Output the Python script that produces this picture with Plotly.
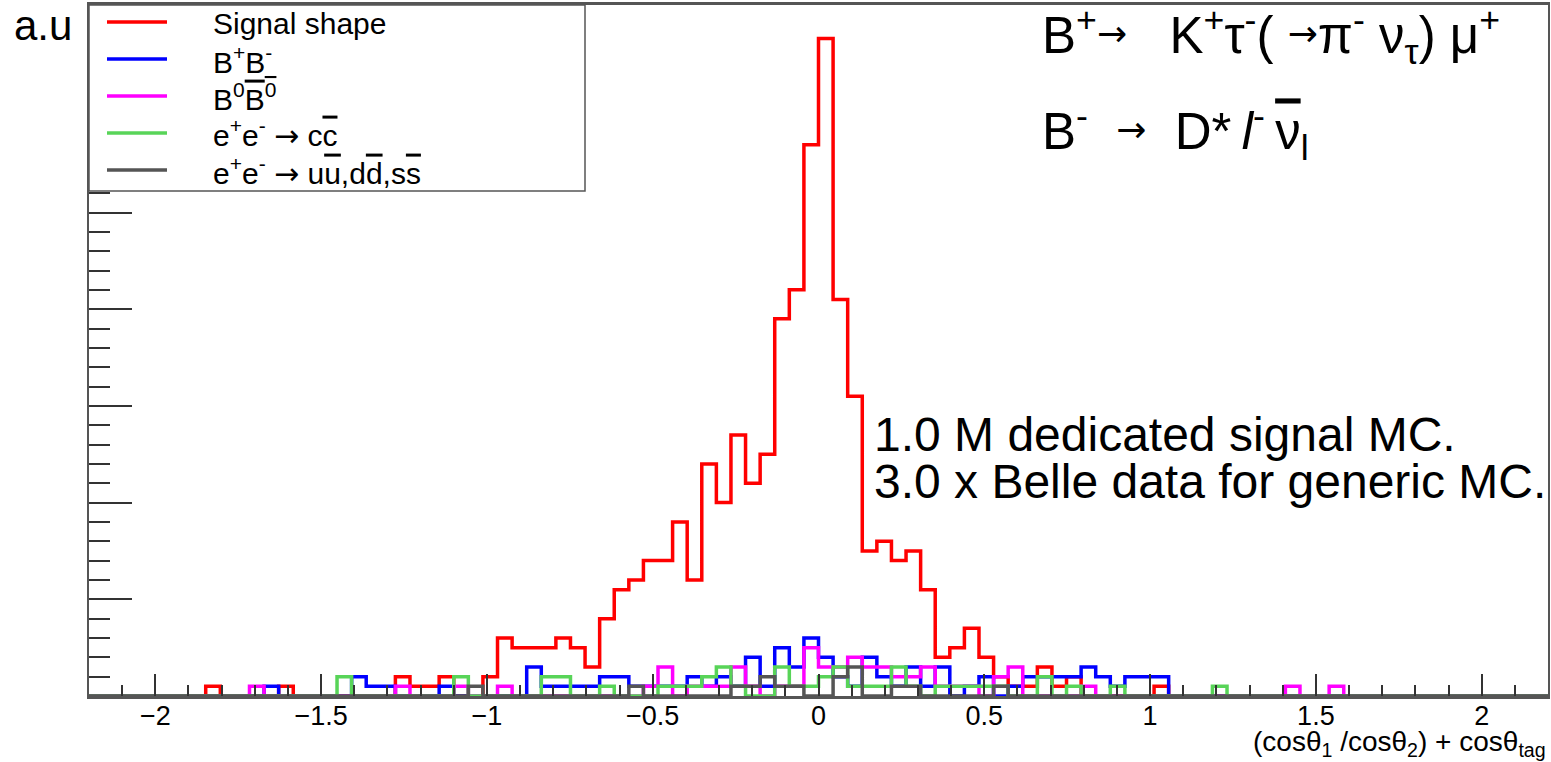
import numpy as np
import plotly.graph_objects as go

# ---------------- data (counts per bin, 100 bins on [-2.2, 2.2]) ----------------
x_lo, x_hi, n_bins = -2.2, 2.2, 100

signal = [0, 0, 0, 0, 0, 0, 0, 0, 1, 0,
          0, 0, 0, 1, 0, 0, 0, 0, 0, 0,
          0, 2, 1, 1, 2, 0, 0, 2, 6, 5,
          5, 5, 6, 5, 3, 8, 11, 12, 14, 14,
          18, 12, 24, 20, 27, 22, 25, 39, 42, 57,
          68, 41, 31, 15, 16, 14, 15, 11, 4, 5,
          7, 4, 2, 1, 1, 3, 1, 2, 0, 0,
          0, 0, 0, 1, 0, 0, 0, 0, 0, 0,
          0, 0, 0, 0, 0, 0, 0, 0, 0, 0,
          0, 0, 0, 0, 0, 0, 0, 0, 0, 0]

bplus_bminus = [0, 0, 0, 0, 0, 0, 0, 0, 0, 0,
                0, 0, 1, 0, 0, 0, 0, 0, 2, 1,
                1, 0, 0, 0, 1, 0, 0, 0, 0, 0,
                3, 1, 1, 1, 1, 2, 2, 1, 1, 1,
                1, 2, 1, 2, 1, 4, 1, 5, 3, 6,
                4, 2, 1, 4, 2, 1, 3, 1, 3, 0,
                1, 2, 0, 1, 2, 2, 2, 2, 3, 2,
                1, 2, 2, 2, 0, 0, 0, 0, 0, 0,
                0, 0, 0, 0, 0, 0, 0, 0, 0, 0,
                0, 0, 0, 0, 0, 0, 0, 0, 0, 0]

b0_b0bar = [0, 0, 0, 0, 0, 0, 0, 0, 0, 0,
            0, 1, 0, 0, 0, 0, 0, 0, 0, 0,
            0, 1, 0, 0, 0, 1, 0, 0, 1, 0,
            0, 0, 0, 0, 0, 0, 0, 0, 1, 3,
            0, 1, 1, 1, 3, 1, 0, 1, 1, 5,
            3, 3, 4, 3, 3, 2, 2, 3, 1, 1,
            1, 0, 2, 3, 0, 0, 0, 0, 1, 0,
            0, 0, 0, 0, 0, 0, 0, 0, 0, 0,
            0, 0, 1, 0, 0, 1, 0, 0, 0, 0,
            0, 0, 0, 0, 0, 0, 0, 0, 0, 0]

ccbar = [0, 0, 0, 0, 0, 0, 0, 0, 0, 0,
         0, 0, 0, 0, 0, 0, 0, 2, 0, 0,
         0, 0, 0, 0, 0, 2, 0, 0, 0, 0,
         0, 2, 2, 0, 0, 1, 0, 0, 0, 1,
         1, 1, 2, 3, 1, 0, 0, 3, 1, 1,
         2, 3, 1, 1, 1, 3, 1, 0, 1, 1,
         1, 1, 1, 0, 0, 2, 0, 1, 0, 0,
         1, 0, 0, 0, 0, 0, 0, 1, 0, 0,
         0, 0, 0, 0, 0, 0, 0, 0, 0, 0,
         0, 0, 0, 0, 0, 0, 0, 0, 0, 0]

uds = [0, 0, 0, 0, 0, 0, 0, 0, 0, 0,
       0, 0, 0, 0, 0, 0, 0, 0, 0, 0,
       0, 0, 0, 0, 0, 0, 1, 0, 0, 0,
       0, 0, 0, 0, 0, 0, 0, 1, 0, 0,
       0, 0, 0, 0, 1, 1, 2, 1, 1, 0,
       0, 2, 3, 0, 0, 1, 1, 0, 0, 0,
       0, 0, 1, 0, 0, 0, 0, 0, 0, 0,
       0, 0, 0, 0, 0, 0, 0, 0, 0, 0,
       0, 0, 0, 0, 0, 0, 0, 0, 0, 0,
       0, 0, 0, 0, 0, 0, 0, 0, 0, 0]

OV = "<span style='text-decoration:overline'>{}</span>"
ARR = "<span style='font-family:DejaVu Sans'>→</span>"
series_names = [
    "Signal shape",
    "B<sup>+</sup>B<sup>-</sup>",
    "B<sup>0</sup>" + OV.format("B<sup>0</sup>"),
    "e<sup>+</sup>e<sup>-</sup> " + ARR + " c" + OV.format("c"),
    "e<sup>+</sup>e<sup>-</sup> " + ARR + " u" + OV.format("u") + ",d" + OV.format("d")
    + ",s" + OV.format("s"),
]
series_values = [signal, bplus_bminus, b0_b0bar, ccbar, uds]
series_colors = ["#ff0000", "#0000ff", "#ff00ff", "#58d458", "#555555"]

FONT = "Liberation Sans, Arial, Helvetica, sans-serif"

edges = np.linspace(x_lo, x_hi, n_bins + 1)

fig = go.Figure()
for name, vals, col in zip(series_names, series_values, series_colors):
    yv = list(vals) + [vals[-1]]
    fig.add_trace(go.Scatter(
        x=edges, y=yv, mode="lines", name=name, showlegend=False,
        line=dict(color=col, width=3.5, shape="hv"),
        hoverinfo="skip",
    ))

W, H = 1551, 762
L, R, T, B = 89, 3, 5, 66
pw, ph = W - L - R, H - T - B


def px(xpix):
    return (xpix - L) / pw


def py(ypix):
    return (H - B - ypix) / ph


y_top = ph / 9.67

# legend box + entries (drawn as layout decorations)
shapes = [dict(
    type="rect", xref="paper", yref="paper",
    x0=0, x1=px(585), y0=py(191), y1=1,
    line=dict(color="#555555", width=1.5), fillcolor="white", layer="above",
)]
legend_rows = [22, 59, 96, 133, 170]
ann = []
for name, col, row in zip(series_names, series_colors, legend_rows):
    shapes.append(dict(type="line", xref="paper", yref="paper",
                       x0=px(107), x1=px(167), y0=py(row), y1=py(row),
                       line=dict(color=col, width=3.5), layer="above"))
    ann.append(dict(text=name, x=px(211), y=py(row + 1), xanchor="left",
                    yanchor="middle", font=dict(size=30)))

fig.update_layout(
    width=W, height=H,
    margin=dict(l=L, r=R, t=T, b=B, autoexpand=False),
    paper_bgcolor="white", plot_bgcolor="white",
    font=dict(family=FONT, color="black"),
    showlegend=False,
    xaxis=dict(
        range=[x_lo, x_hi], tick0=0, dtick=0.5,
        ticks="inside", ticklen=22, tickwidth=2, tickcolor="#333333",
        showline=True, linecolor="#555555", linewidth=3, mirror=True,
        showgrid=False, zeroline=False, ticklabelstandoff=-6,
        tickfont=dict(size=27, family=FONT, color="black"),
        minor=dict(dtick=0.1, ticks="inside", ticklen=11, tickwidth=2,
                   tickcolor="#333333", showgrid=False),
    ),
    yaxis=dict(
        range=[0, y_top], tick0=0, dtick=10,
        ticks="inside", ticklen=43, tickwidth=2, tickcolor="#333333",
        showticklabels=False,
        showline=True, linecolor="#555555", linewidth=2, mirror=True,
        showgrid=False, zeroline=False,
        minor=dict(dtick=2, ticks="inside", ticklen=21, tickwidth=2,
                   tickcolor="#333333", showgrid=False),
    ),
    shapes=shapes,
)

NB = "\u00a0"
TH = "\u2009"
farr = ("<span style='font-family:DejaVu Sans;font-size:36px;"
        "baseline-shift:7px'>→</span>")
ann += [
    dict(text="a.u", x=px(12), y=py(0), xanchor="left", yanchor="top",
         font=dict(size=42)),
    dict(text="B<sup>+</sup>" + farr + NB + NB + " K<sup>+</sup>τ<sup>-</sup>(" + NB + farr +
         "π<sup>-</sup>" + NB + "ν<sub>τ</sub>)" + NB + "μ<sup>+</sup>",
         x=px(1040), y=py(-2), xanchor="left", yanchor="top", font=dict(size=51)),
    dict(text="B<sup>-</sup>" + NB + NB + farr + NB + " D*" + TH + "<i>l</i><sup>-</sup>" + TH
         + OV.format("ν") + "<sub>l</sub>",
         x=px(1040), y=py(94), xanchor="left", yanchor="top", font=dict(size=51)),
    dict(text="1.0 M dedicated signal MC.", x=px(872), y=py(406),
         xanchor="left", yanchor="top", font=dict(size=48)),
    dict(text="3.0 x Belle data for generic MC.", x=px(872), y=py(453),
         xanchor="left", yanchor="top", font=dict(size=48)),
    dict(text="(cosθ<sub>1</sub> /cosθ<sub>2</sub>) + cosθ<sub>tag</sub>",
         x=1.0, y=py(763), xanchor="right", yanchor="bottom", font=dict(size=28)),
]
for a in ann:
    a.update(xref="paper", yref="paper", showarrow=False)
    a["font"].update(family=FONT, color="black")
fig.update_layout(annotations=ann)

fig.write_html("out.html")
